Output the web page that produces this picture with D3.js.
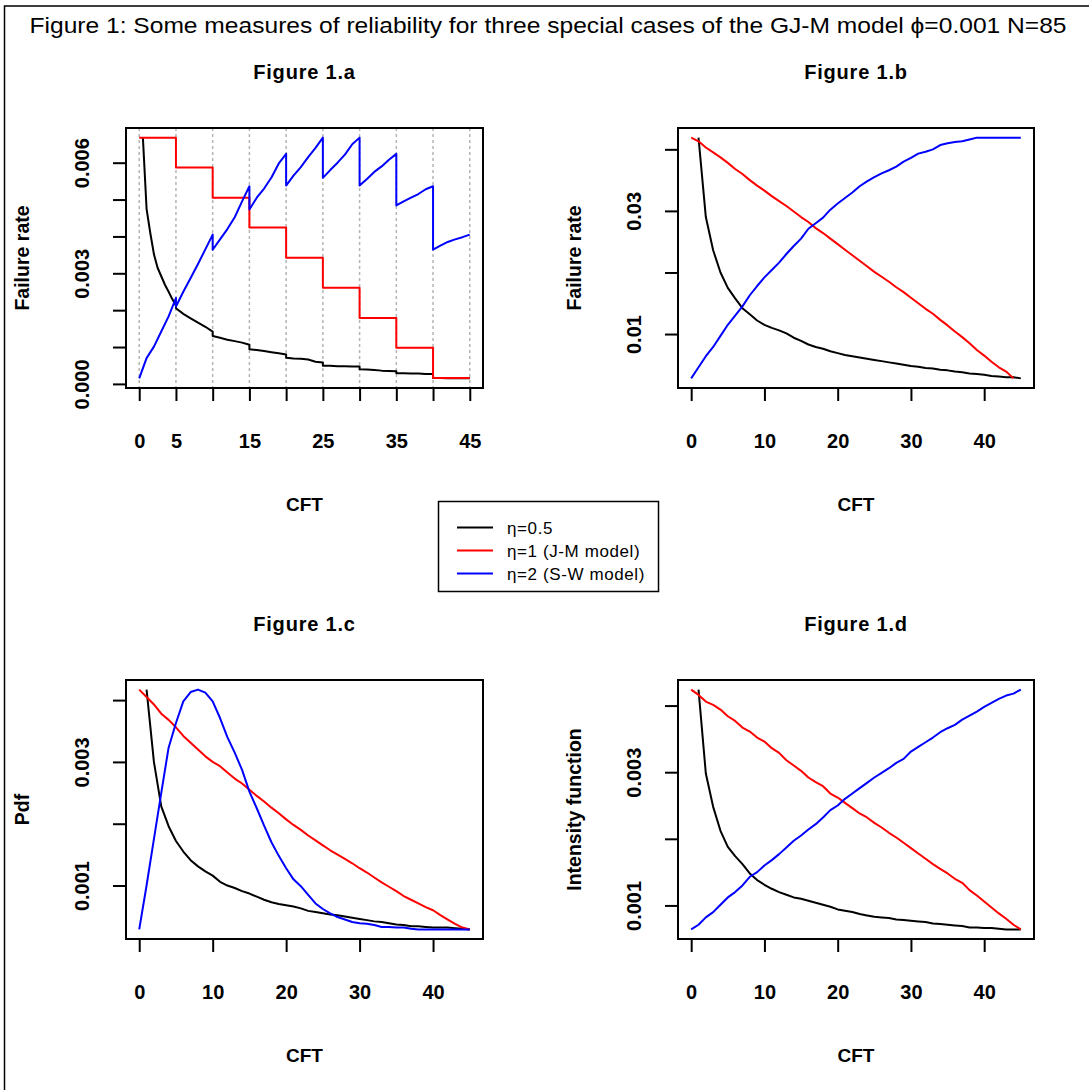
<!DOCTYPE html>
<html>
<head>
<meta charset="utf-8">
<script src="https://cdn.jsdelivr.net/npm/d3@7"></script>
<style>
  body { margin: 0; background: #fff; }
  text { font-family: "Liberation Sans", Arial, Helvetica, sans-serif; }
</style>
</head>
<body>
<svg width="1089" height="1090"></svg>
<script>
// CFT grid used by panels b, c, d
var cft = [0,1,2,3,4,5,6,7,8,9,10,11,12,13,14,15,16,17,18,19,20,21,22,23,24,25,26,27,28,29,30,31,32,33,34,35,36,37,38,39,40,41,42,43,44,45];
var cft1 = cft.slice(1);

// Figure 1.a  (failure rate between failures)
var stepA = [0,5,10,15,20,25,30,35,40,45];
var redA = [0.00668,0.00587,0.00505,0.00424,0.00342,0.00261,0.00179,0.00098,0.00016,0.00016];
var xBlueA = [0,1,2,3,4,5, 5,6,7,8,9,10, 10,11,12,13,14,15, 15,16,17,18,19,20, 20,21,22,23,24,25,
              25,26,27,28,29,30, 30,31,32,33,34,35, 35,36,37,38,39,40, 40,41,42,43,44,45];
var blueA = [0.00015,0.00070,0.00101,0.00142,0.00183,0.00233,
             0.00210,0.00250,0.00287,0.00325,0.00365,0.00405,
             0.00364,0.00392,0.00420,0.00452,0.00495,0.00536,
             0.00473,0.00505,0.00530,0.00560,0.00598,0.00624,
             0.00538,0.00565,0.00588,0.00615,0.00640,0.00668,
             0.00559,0.00580,0.00600,0.00622,0.00650,0.00668,
             0.00538,0.00556,0.00575,0.00590,0.00608,0.00624,
             0.00484,0.00495,0.00505,0.00515,0.00528,0.00536,
             0.00364,0.00375,0.00385,0.00392,0.00398,0.00405];
var xBlackA = [0.5,1,1.5,2,2.5,3,3.5,4,4.5,5, 5,6,7,8,9,10, 10,11,12,13,14,15, 15,16,17,18,19,20,
               20,21,22,23,24,25, 25,26,27,28,29,30, 30,31,32,33,34,35, 35,36,37,38,39,40, 40,41,42,43,44,45];
var blackA = [0.00668,0.00475,0.00410,0.00352,0.00315,0.00292,0.00269,0.00250,0.00230,0.00212,
              0.00205,0.00190,0.00178,0.00166,0.00155,0.00142,
              0.00130,0.00125,0.00120,0.00116,0.00112,0.00106,
              0.00094,0.00092,0.00089,0.00086,0.00083,0.00080,
              0.00071,0.00069,0.00068,0.00066,0.00060,0.00058,
              0.00049,0.00049,0.00048,0.00048,0.00047,0.00047,
              0.00040,0.00039,0.00038,0.00036,0.00035,0.00034,
              0.00029,0.00029,0.00028,0.00028,0.00027,0.00027,
              0.00016,0.00016,0.00015,0.00015,0.00015,0.00015];

// Figure 1.b  (failure rate)
var blackB = [0.0419,0.0290,0.0236,0.0200,0.0175,0.0158,0.0142,0.0132,0.0122,0.0115,0.0110,0.0106,0.0101,0.0094,0.0089,
              0.0083,0.0079,0.0076,0.0072,0.0069,0.0066,0.0064,0.0062,0.0060,0.0058,0.0056,0.0054,0.0052,0.0050,0.0048,
              0.0047,0.0045,0.0044,0.0042,0.0041,0.0039,0.0038,0.0036,0.0035,0.0034,0.0032,0.0031,0.0030,0.0030,0.0028];
var redB = [0.0419,0.0413,0.0403,0.0395,0.0387,0.0378,0.0368,0.0360,0.0350,0.0341,0.0333,0.0324,0.0316,0.0308,0.0299,
            0.0290,0.0282,0.0272,0.0264,0.0255,0.0246,0.0237,0.0228,0.0219,0.0210,0.0201,0.0193,0.0185,0.0176,0.0168,
            0.0159,0.0150,0.0141,0.0133,0.0123,0.0114,0.0104,0.0095,0.0085,0.0074,0.0065,0.0055,0.0046,0.0039,0.0028];
var blueB = [0.0028,0.0046,0.0064,0.0079,0.0097,0.0115,0.0130,0.0145,0.0163,0.0178,0.0192,0.0204,0.0216,0.0230,0.0243,
             0.0255,0.0271,0.0280,0.0289,0.0302,0.0312,0.0321,0.0330,0.0340,0.0348,0.0355,0.0361,0.0366,0.0372,0.0380,
             0.0386,0.0393,0.0396,0.0400,0.0407,0.0410,0.0412,0.0413,0.0416,0.0419,0.0419,0.0419,0.0419,0.0419,0.0419,0.0419];

// Figure 1.c  (pdf)
var blackC = [0.00417,0.00300,0.00228,0.00196,0.00172,0.00155,0.00141,0.00131,0.00123,0.00116,0.00106,0.00100,0.00096,0.00091,0.00087,
              0.00082,0.00077,0.00073,0.00070,0.00068,0.00066,0.00063,0.00059,0.00057,0.00055,0.00053,0.00052,0.00050,0.00048,0.00046,
              0.00044,0.00042,0.00041,0.00039,0.00037,0.00036,0.00034,0.00034,0.00033,0.00032,0.00032,0.00032,0.00031,0.00030,0.00029];
var redC = [0.00417,0.00405,0.00393,0.00378,0.00368,0.00356,0.00342,0.00331,0.00320,0.00309,0.00300,0.00293,0.00283,0.00273,0.00265,
            0.00255,0.00245,0.00236,0.00226,0.00217,0.00207,0.00198,0.00190,0.00181,0.00173,0.00165,0.00157,0.00150,0.00143,0.00136,
            0.00128,0.00121,0.00113,0.00105,0.00098,0.00091,0.00083,0.00077,0.00071,0.00065,0.00060,0.00052,0.00045,0.00038,0.00032,0.00029];
var blueC = [0.00029,0.00100,0.00175,0.00250,0.00323,0.00363,0.00398,0.00413,0.00417,0.00412,0.00398,0.00371,0.00340,0.00315,0.00287,
             0.00252,0.00225,0.00197,0.00170,0.00148,0.00128,0.00110,0.00099,0.00085,0.00071,0.00062,0.00055,0.00049,0.00045,0.00041,
             0.00039,0.00038,0.00036,0.00033,0.00033,0.00032,0.00032,0.00030,0.00029,0.00029,0.00029,0.00029,0.00029,0.00029,0.00029,0.00029];

// Figure 1.d  (intensity function)
var blackD = [0.00424,0.00298,0.00248,0.00212,0.00188,0.00174,0.00162,0.00148,0.00138,0.00131,0.00125,0.00120,0.00116,0.00112,0.00110,
              0.00107,0.00104,0.00101,0.00098,0.00094,0.00092,0.00090,0.00087,0.00085,0.00083,0.00082,0.00081,0.00079,0.00078,0.00077,
              0.00076,0.00075,0.00073,0.00072,0.00071,0.00070,0.00069,0.00067,0.00067,0.00066,0.00066,0.00065,0.00064,0.00064,0.00064];
var redD = [0.00424,0.00416,0.00406,0.00401,0.00394,0.00384,0.00377,0.00367,0.00361,0.00352,0.00346,0.00336,0.00329,0.00318,0.00310,
            0.00302,0.00292,0.00285,0.00279,0.00268,0.00262,0.00254,0.00246,0.00238,0.00232,0.00224,0.00217,0.00209,0.00202,0.00194,
            0.00186,0.00178,0.00170,0.00162,0.00155,0.00148,0.00140,0.00134,0.00123,0.00115,0.00106,0.00097,0.00088,0.00080,0.00071,0.00064];
var blueD = [0.00064,0.00071,0.00082,0.00090,0.00101,0.00112,0.00120,0.00130,0.00143,0.00150,0.00160,0.00168,0.00177,0.00187,0.00197,
             0.00205,0.00214,0.00222,0.00232,0.00243,0.00250,0.00260,0.00268,0.00276,0.00284,0.00292,0.00299,0.00306,0.00314,0.00320,
             0.00331,0.00338,0.00345,0.00352,0.00360,0.00366,0.00371,0.00379,0.00385,0.00391,0.00398,0.00404,0.00410,0.00415,0.00418,0.00424];

var legendLabels = ["\u03b7=0.5", "\u03b7=1 (J-M model)", "\u03b7=2 (S-W model)"];
var colors = ["#000000", "#ff0000", "#0000ff"];

var svg = d3.select("svg");

function zip(xs, ys) { return xs.map(function(x, i) { return [x, ys[i]]; }); }

var panels = [
  { title: "Figure 1.a", ylab: "Failure rate", box: [126, 128, 483, 388],
    xTicks: [0,5,10,15,20,25,30,35,40,45], xLabels: [0,5,15,25,35,45],
    yTicks: [0,0.001,0.002,0.003,0.004,0.005,0.006], yLabels: [0,0.003,0.006], yFmt: d3.format(".3f"),
    grid: stepA,
    series: [ {d: zip(xBlackA, blackA), c: 0}, {d: zip(stepA, redA), c: 1, step: true}, {d: zip(xBlueA, blueA), c: 2} ] },
  { title: "Figure 1.b", ylab: "Failure rate", box: [678, 128, 1034, 388],
    xTicks: [0,10,20,30,40], xLabels: [0,10,20,30,40],
    yTicks: [0.01,0.02,0.03,0.04], yLabels: [0.01,0.03], yFmt: d3.format(".2f"),
    series: [ {d: zip(cft1, blackB), c: 0}, {d: zip(cft, redB), c: 1}, {d: zip(cft, blueB), c: 2} ] },
  { title: "Figure 1.c", ylab: "Pdf", box: [126, 680, 483, 939],
    xTicks: [0,10,20,30,40], xLabels: [0,10,20,30,40],
    yTicks: [0.001,0.002,0.003,0.004], yLabels: [0.001,0.003], yFmt: d3.format(".3f"),
    series: [ {d: zip(cft1, blackC), c: 0}, {d: zip(cft, redC), c: 1}, {d: zip(cft, blueC), c: 2} ] },
  { title: "Figure 1.d", ylab: "Intensity function", box: [678, 680, 1034, 939],
    xTicks: [0,10,20,30,40], xLabels: [0,10,20,30,40],
    yTicks: [0.001,0.002,0.003,0.004], yLabels: [0.001,0.003], yFmt: d3.format(".3f"),
    series: [ {d: zip(cft1, blackD), c: 0}, {d: zip(cft, redD), c: 1}, {d: zip(cft, blueD), c: 2} ] }
];

// outer frame and title
svg.append("rect").attr("x", 4.5).attr("y", 6).attr("width", 1100).attr("height", 1100)
  .attr("fill", "none").attr("stroke", "#000").attr("stroke-width", 1.5);
svg.append("text").attr("x", 548).attr("y", 33).attr("text-anchor", "middle")
  .attr("font-size", 22).attr("textLength", 1037).attr("lengthAdjust", "spacingAndGlyphs")
  .text("Figure 1: Some measures of reliability for three special cases of the GJ-M model \u03d5=0.001 N=85");

// R style axis padding (4%)
function padded(ext) {
  var r = ext[1] - ext[0];
  return [ext[0] - 0.04 * r, ext[1] + 0.04 * r];
}

panels.forEach(function(p) {
  var L = p.box[0], T = p.box[1], R = p.box[2], B = p.box[3];
  var allPts = [].concat.apply([], p.series.map(function(s) { return s.d; }));
  var x = d3.scaleLinear().domain(padded(d3.extent(allPts, function(d) { return d[0]; }))).range([L, R]);
  var y = d3.scaleLinear().domain(padded(d3.extent(allPts, function(d) { return d[1]; }))).range([B, T]);
  if (p.title === "Figure 1.a") x.domain(padded([0, 45]));

  var g = svg.append("g");

  if (p.grid) {
    g.selectAll("line.grid").data(p.grid).enter().append("line")
      .attr("x1", function(d) { return x(d); }).attr("x2", function(d) { return x(d); })
      .attr("y1", T).attr("y2", B)
      .attr("stroke", "#b4b4b4").attr("stroke-width", 1.5).attr("stroke-dasharray", "3,3");
  }

  p.series.forEach(function(s) {
    var line = d3.line().x(function(d) { return x(d[0]); }).y(function(d) { return y(d[1]); });
    if (s.step) line.curve(d3.curveStepAfter);
    g.append("path").datum(s.d).attr("d", line)
      .attr("fill", "none").attr("stroke", colors[s.c]).attr("stroke-width", 2)
      .attr("stroke-linejoin", "round");
  });

  g.append("rect").attr("x", L).attr("y", T).attr("width", R - L).attr("height", B - T)
    .attr("fill", "none").attr("stroke", "#000").attr("stroke-width", 2);

  // x axis
  var xa = g.append("g").attr("transform", "translate(0," + B + ")")
    .call(d3.axisBottom(x).tickValues(p.xTicks).tickSize(13).tickFormat(function(d) {
      return p.xLabels.indexOf(d) >= 0 ? d : "";
    }));
  xa.select(".domain").attr("d", "M" + x(p.xTicks[0]) + ",0H" + x(p.xTicks[p.xTicks.length - 1]))
    .attr("stroke-width", 2);
  xa.selectAll(".tick line").attr("stroke-width", 2);
  xa.selectAll(".tick text").attr("font-size", 20).attr("font-weight", "bold")
    .attr("font-family", "Liberation Sans, Arial, sans-serif").attr("dy", null).attr("y", 60);

  // y axis
  var ya = g.append("g").attr("transform", "translate(" + L + ",0)")
    .call(d3.axisLeft(y).tickValues(p.yTicks).tickSize(13).tickFormat(function(d) {
      return p.yLabels.indexOf(d) >= 0 ? p.yFmt(d) : "";
    }));
  ya.select(".domain").attr("d", "M0," + y(p.yTicks[0]) + "V" + y(p.yTicks[p.yTicks.length - 1]))
    .attr("stroke-width", 2);
  ya.selectAll(".tick line").attr("stroke-width", 2);
  ya.selectAll(".tick text").attr("font-size", 20).attr("font-weight", "bold")
    .attr("font-family", "Liberation Sans, Arial, sans-serif")
    .attr("x", null).attr("dy", null).attr("text-anchor", "middle")
    .attr("transform", "translate(-37,0) rotate(-90)");

  // titles
  var cx = (L + R) / 2;
  g.append("text").attr("x", cx).attr("y", T - 49).attr("text-anchor", "middle")
    .attr("font-size", 20).attr("font-weight", "bold").attr("letter-spacing", 0.8).text(p.title);
  g.append("text").attr("x", cx).attr("y", B + 123).attr("text-anchor", "middle")
    .attr("font-size", 19).attr("font-weight", "bold").text("CFT");
  g.append("text").attr("transform", "translate(" + (L - 97) + "," + ((T + B) / 2) + ") rotate(-90)")
    .attr("text-anchor", "middle").attr("font-size", 19.5).attr("font-weight", "bold").text(p.ylab);
});

// legend
var lg = svg.append("g");
lg.append("rect").attr("x", 438.5).attr("y", 501.5).attr("width", 220).attr("height", 90)
  .attr("fill", "#fff").attr("stroke", "#000").attr("stroke-width", 1.5);
legendLabels.forEach(function(t, i) {
  var yy = 527.5 + i * 23;
  lg.append("line").attr("x1", 457).attr("x2", 493).attr("y1", yy).attr("y2", yy)
    .attr("stroke", colors[i]).attr("stroke-width", 2);
  lg.append("text").attr("x", 507).attr("y", yy + 6).attr("font-size", 17)
    .attr("letter-spacing", 0.6).text(t);
});
</script>
</body>
</html>
